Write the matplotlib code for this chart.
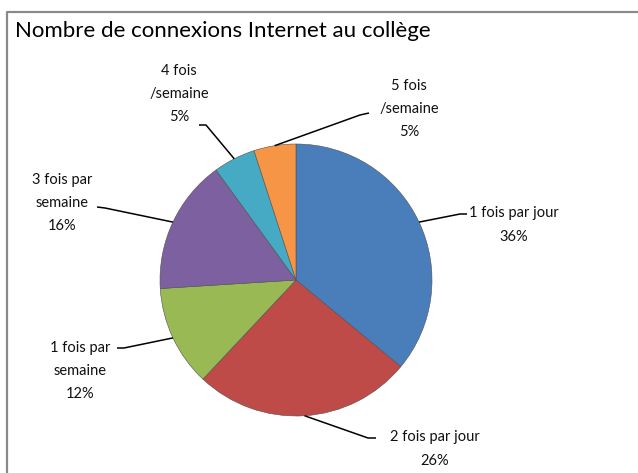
import matplotlib
matplotlib.use("Agg")
import matplotlib.pyplot as plt
import numpy as np

# data
labels = ["1 fois par jour", "2 fois par jour", "1 fois par\nsemaine",
          "3 fois par\nsemaine", "4 fois\n/semaine", "5 fois\n/semaine"]
values = [36, 26, 12, 16, 5, 5]
colors = ["#4A7EBB", "#BE4B48", "#98B954", "#7D60A0", "#46AAC5", "#F69545"]

title = "Nombre de connexions Internet au collège"

# figure in pixel units (y downwards)
W, H = 638, 473
fig = plt.figure(figsize=(W / 100, H / 100), dpi=100)
ax = fig.add_axes([0, 0, 1, 1])
plt.rcParams['font.family'] = ['Lato', 'DejaVu Sans']

cx, cy, r = 296, 280, 136
wedges, _ = ax.pie(values, colors=colors, startangle=-90, counterclock=True,
                   center=(cx, cy), radius=r,
                   wedgeprops=dict(edgecolor="#505050", linewidth=0.4))

ax.set_xlim(0, W)
ax.set_ylim(H, 0)
ax.set_aspect("equal")
ax.axis("off")

# label layout: text centre, line start at text, elbow
label_pos = [
    ((514, 225), (467, 214), (460, 214)),
    ((435, 449), (376, 438), (368, 438)),
    ((80, 371), (117, 348), (124, 348)),
    ((62, 203), (97, 207), (105, 208)),
    ((179, 94), (199, 125), (206, 125)),
    ((409, 109), (369, 113), (360, 115)),
]

for w, lab, v, (tpos, start, elbow) in zip(wedges, labels, values, label_pos):
    mid = np.deg2rad((w.theta1 + w.theta2) / 2)
    ax_x = cx + r * np.cos(mid)
    ax_y = cy + r * np.sin(mid)
    ax.text(tpos[0], tpos[1], f"{lab}\n{v}%", ha="center", va="center",
            fontsize=10.5, color="#111111", linespacing=1.85)
    ax.plot([start[0], elbow[0], ax_x], [start[1], elbow[1], ax_y],
            color="black", lw=1.1, solid_capstyle="butt")

ax.text(15, 31, title, ha="left", va="center", fontsize=16, color="black")

# chart border
ax.plot([7, 7, W + 5], [H + 5, 12, 12], color="#8a8a8a", lw=1.6, clip_on=False)

fig.savefig("out.png", dpi=100)
